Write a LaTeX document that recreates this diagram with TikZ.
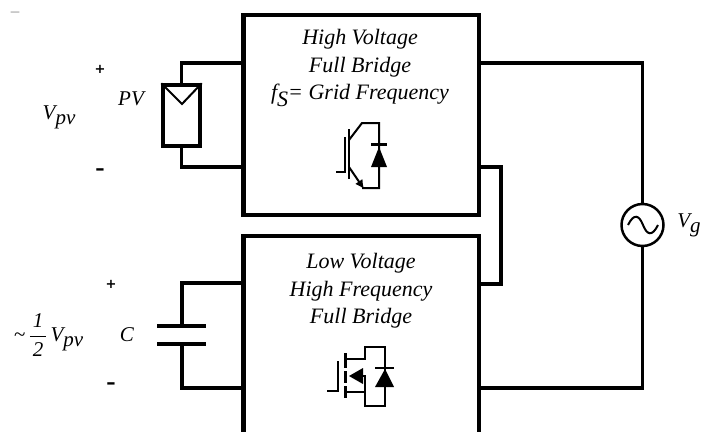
\documentclass[tikz,border=0pt]{standalone}
\usepackage{fontspec}
\setmainfont{Liberation Serif}
\newfontfamily\signfont{DejaVu Sans}
\usetikzlibrary{arrows.meta}
\newcommand{\lowsub}[1]{\raisebox{-5pt}{#1}}
\tikzset{
  powerbox/.style={draw,line width=4.8pt,minimum width=235.5pt,inner sep=0pt},
  boxtext/.style={font=\fontsize{22}{27.7}\selectfont\itshape,align=center,inner sep=0pt},
  tag/.style={font=\fontsize{21}{24}\selectfont\itshape,inner sep=0pt},
  plussign/.style={font=\signfont\fontsize{13}{13}\selectfont\bfseries,inner sep=0pt},
  minussign/.style={font=\fontsize{28}{28}\selectfont\bfseries,inner sep=0pt},
  wire/.style={draw,line width=3.5pt,miter limit=10},
  thinwire/.style={draw,line width=2pt},
  devicetip/.style={fill=black,draw=none}
}

\begin{document}
\begin{tikzpicture}[x=1pt,y=-1pt]
  \useasboundingbox (0,0) rectangle (701,431);
  % converter blocks
  \node[powerbox,minimum height=200pt] (topbox) at (361.2,115) {};
  \node[powerbox,minimum height=210pt] (lowbox) at (361.2,341) {};
  \node[boxtext] (toptext) at (360,68) {High Voltage\\Full Bridge\\f\raisebox{-7pt}{S}= Grid Frequency};
  \node[boxtext] (lowtext) at (361,291) {Low Voltage\\High Frequency\\Full Bridge};
  % sources
  \node[draw,line width=3.5pt,minimum width=37pt,minimum height=61pt,inner sep=0pt] (pvcell) at (181.5,115.5) {};
  \node[draw,circle,line width=2.5pt,minimum size=42pt,inner sep=0pt] (grid) at (642.5,225) {};
  \draw[line width=2pt] (628,225) .. controls (634,213) and (639,215) .. (643,225) .. controls (647,235) and (652,237) .. (658,225);
  \draw[thinwire] (pvcell.north west) -- (182,104) -- (pvcell.north east);
  \coordinate (captop) at (182,326);
  \coordinate (capbot) at (182,344);
  \draw[line width=3.5pt] (157,326) -- (206,326);
  \draw[line width=3.5pt] (157,344) -- (206,344);
  % connections
  \draw[wire] (topbox.west |- 0,63) -| (pvcell.north);
  \draw[wire] (topbox.west |- 0,167) -| (pvcell.south);
  \draw[wire] (lowbox.west |- 0,283) -| (captop);
  \draw[wire] (lowbox.west |- 0,388) -| (capbot);
  \draw[wire] (topbox.east |- 0,63) -| (grid.north);
  \draw[wire] (lowbox.east |- 0,388) -| (grid.south);
  \draw[wire] (topbox.east |- 0,167) -- (501,167) -- (501,284) -- (lowbox.east |- 0,284);
  % switch of upper block
  \draw[thinwire] (336,172) -- (345,172) -- (345,137);
  \draw[thinwire] (349,129) -- (349,179);
  \draw[thinwire] (349,140) -- (362,123) -- (379,123) -- (379,188) -- (362,188);
  \draw[thinwire,-{Latex[length=9pt,width=9pt]}] (349,167) -- (364,189);
  \draw[devicetip] (379,147) -- (387,167) -- (371,167) -- cycle;
  \draw[line width=2.5pt] (371,144.5) -- (387,144.5);
  % switch of lower block
  \draw[line width=2.5pt] (327,391) -- (338,391) -- (338,361);
  \draw[line width=3pt] (345,353) -- (345,368) (345,371) -- (345,383) (345,386) -- (345,398);
  \draw[thinwire] (345,359) -- (365,359) -- (365,347) -- (385,347) -- (385,406) -- (365,406) -- (365,392) -- (345,392);
  \draw[thinwire] (365,392) -- (365,376) -- (355,376);
  \draw[devicetip] (349,376) -- (363,368) -- (363,384) -- cycle;
  \draw[devicetip] (385,369) -- (394,387) -- (375,387) -- cycle;
  \draw[line width=2.5pt] (375,368) -- (394,368);
  % labels
  \node[tag] (vpv) at (59,117) {V\lowsub{pv}};
  \node[tag] (pvtag) at (131,99) {PV};
  \node[plussign] (pvplus) at (100,69) {+};
  \node[minussign] (pvminus) at (100,173) {-};
  \node[plussign] (capplus) at (111,284) {+};
  \node[minussign] (capminus) at (111,387) {-};
  \node[tag] (ctag) at (127,335) {C};
  \node[tag] (vhalf) at (48.5,335) {\textasciitilde\,$\displaystyle\frac{\mbox{\itshape\kern3pt 1\kern3pt}}{\mbox{\itshape\kern3pt 2\kern3pt}}$\kern3pt V\lowsub{pv}};
  \node[tag] (vg) at (689,225) {V\lowsub{g}};
  \node[font=\fontsize{17}{18}\selectfont,text=black!45,inner sep=0pt] (stray) at (15,14) {–};
\end{tikzpicture}
\end{document}
